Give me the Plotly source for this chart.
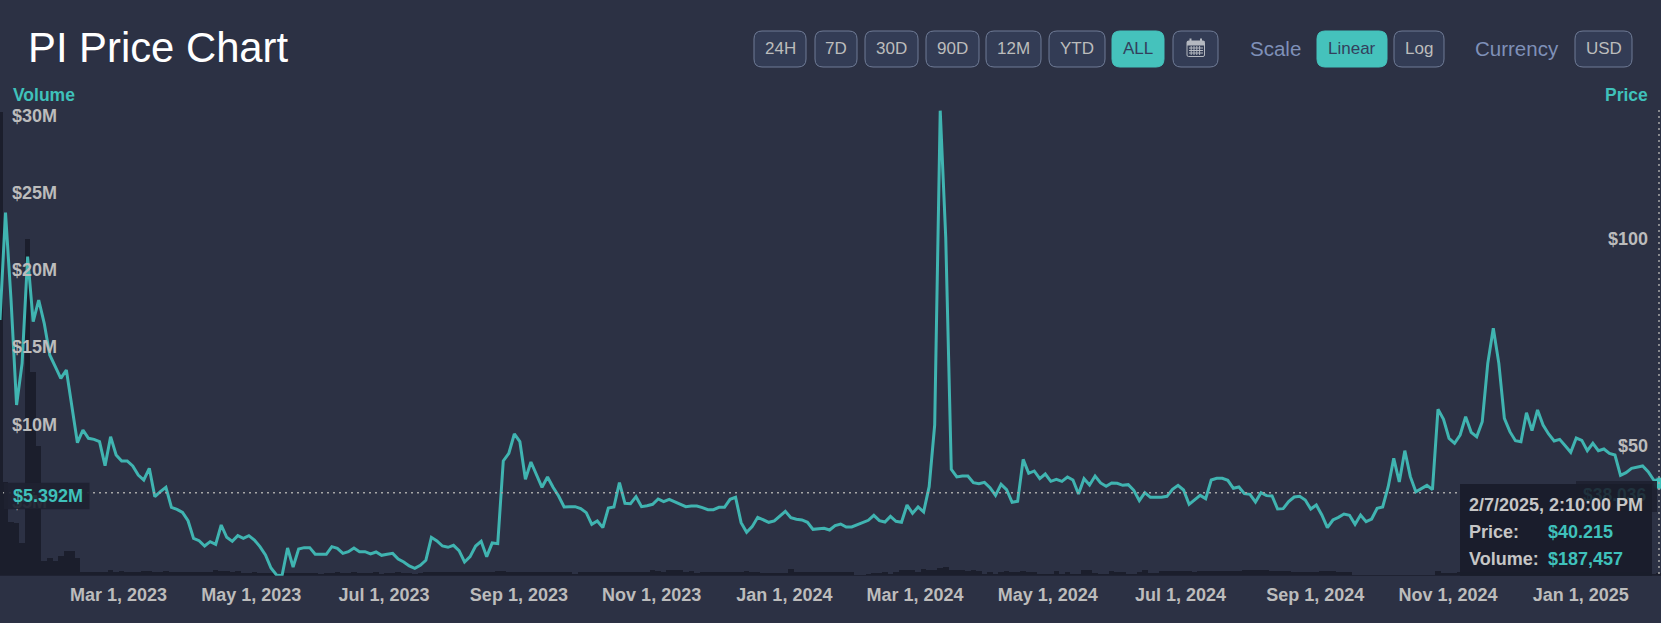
import pandas as pd
import plotly.graph_objects as go

W, H = 1661, 623

price = [
79.58,105.46,84.40,59.09,69.13,94.85,79.18,84.40,78.78,71.14,68.33,65.52,67.53,58.29,50.01,53.06,51.05,50.81,50.25,44.46,
51.45,47.03,45.59,45.59,44.38,42.21,41.01,43.82,36.99,38.20,39.24,34.42,33.94,33.21,31.20,26.94,26.38,25.10,26.14,25.50,
30.16,27.19,26.22,27.59,26.94,27.59,26.54,24.94,22.93,19.79,18.11,18.00,24.61,20.03,24.37,24.70,24.70,23.09,23.09,23.09,
24.94,24.54,23.33,23.73,24.62,23.73,23.73,23.17,23.65,22.85,23.09,23.33,21.97,21.24,20.28,19.72,20.44,21.65,27.19,26.31,
25.10,24.78,25.26,23.98,21.24,22.53,25.10,26.23,22.53,25.82,25.66,45.59,47.44,52.10,50.25,41.17,45.35,42.38,39.24,41.74,
39.24,37.15,34.50,34.58,34.58,34.10,33.14,30.32,31.13,29.52,34.26,34.50,40.37,35.39,35.31,36.99,34.58,34.82,35.15,36.43,
35.79,36.35,35.79,35.23,34.58,34.74,34.74,34.34,33.86,33.86,34.42,34.42,36.35,36.83,30.73,28.40,29.76,32.01,31.37,30.81,
31.13,32.41,33.46,31.93,31.53,31.37,30.81,29.12,29.28,29.36,28.96,30.00,30.40,29.68,29.68,30.24,30.89,31.29,32.49,31.21,
30.89,32.25,31.05,30.81,34.98,32.98,34.50,33.30,39.40,54.27,130.04,99.35,43.58,41.74,41.97,41.97,40.37,40.13,40.45,39.16,
37.31,39.96,38.68,35.63,35.87,45.99,42.62,43.18,41.33,42.46,40.69,41.17,40.69,41.74,41.01,37.64,41.33,39.81,41.97,40.29,
39.48,40.29,40.21,39.73,39.89,38.52,36.03,37.96,36.83,36.83,36.83,37.07,38.76,39.73,38.60,35.15,36.35,37.31,36.51,41.01,
41.41,41.41,40.93,39.00,39.32,37.72,37.56,35.71,37.96,37.24,37.15,34.02,34.10,35.79,36.91,37.07,36.18,34.01,34.98,32.57,
29.51,31.36,32.01,32.81,32.49,30.32,32.57,30.96,31.60,34.17,34.50,39.40,46.23,40.52,48.08,41.81,38.19,39.00,39.72,38.68,
58.04,55.63,51.05,49.85,51.85,56.27,52.50,51.45,55.07,69.13,77.57,69.13,55.87,52.66,50.49,50.25,57.24,52.90,57.88,54.26,
52.10,50.41,50.81,49.28,47.68,51.13,50.57,48.08,49.85,48.08,48.48,47.43,47.03,42.13,42.77,43.82,44.06,44.38,43.01,41.01,
40.215,
]

# millions of USD
volume = [
30.0,6.08,3.50,3.40,2.10,21.8,13.2,8.40,0.97,1.13,0.97,1.27,1.58,1.58,1.16,0.26,0.24,0.25,0.27,0.26,
0.35,0.26,0.31,0.27,0.24,0.24,0.28,0.33,0.27,0.22,0.30,0.26,0.26,0.25,0.26,0.27,0.26,0.26,0.25,0.35,
0.28,0.28,0.27,0.28,0.20,0.20,0.21,0.20,0.20,0.16,0.16,0.17,0.16,0.16,0.16,0.17,0.16,0.16,0.07,0.20,
0.20,0.21,0.20,0.20,0.21,0.20,0.20,0.20,0.21,0.13,0.20,0.20,0.21,0.20,0.20,0.05,0.15,0.26,0.26,0.27,
0.26,0.26,0.27,0.26,0.26,0.26,0.27,0.26,0.26,0.26,0.30,0.33,0.22,0.22,0.23,0.22,0.22,0.22,0.23,0.22,
0.22,0.22,0.23,0.22,0.05,0.26,0.26,0.27,0.26,0.26,0.26,0.27,0.26,0.26,0.26,0.27,0.26,0.26,0.37,0.33,
0.22,0.37,0.37,0.37,0.22,0.33,0.18,0.26,0.26,0.26,0.26,0.26,0.22,0.26,0.26,0.33,0.26,0.26,0.20,0.20,
0.20,0.20,0.20,0.43,0.22,0.22,0.26,0.22,0.22,0.26,0.26,0.26,0.22,0.22,0.22,0.02,0.02,0.09,0.20,0.15,
0.26,0.13,0.26,0.39,0.39,0.39,0.22,0.43,0.39,0.39,0.47,0.56,0.39,0.39,0.39,0.30,0.39,0.33,0.11,0.26,
0.13,0.22,0.33,0.22,0.26,0.33,0.26,0.22,0.05,0.13,0.13,0.28,0.13,0.26,0.09,0.09,0.37,0.37,0.20,0.13,
0.05,0.30,0.22,0.22,0.09,0.09,0.26,0.35,0.20,0.20,0.30,0.30,0.30,0.30,0.30,0.30,0.22,0.28,0.28,0.28,
0.33,0.33,0.30,0.28,0.28,0.35,0.35,0.35,0.35,0.35,0.28,0.28,0.28,0.28,0.26,0.26,0.26,0.26,0.26,0.30,
0.30,0.30,0.26,0.26,0.26,0.02,0.02,0.02,0.02,0.02,0.02,0.02,0.02,0.02,0.02,0.02,0.02,0.02,0.02,0.02,
0.33,0.20,0.20,0.20,0.25,0.25,0.25,0.25,0.25,0.25,0.25,0.25,0.25,0.25,0.25,0.25,0.25,0.25,0.25,0.25,
0.25,0.25,0.25,0.25,0.25,0.25,0.25,0.25,0.25,0.25,0.25,0.25,0.25,0.25,0.25,0.25,0.25,0.25,0.25,0.09,
0.187,
]

dates = pd.date_range("2023-01-05 12:47", periods=len(price), freq="61h")
x_range = ["2023-01-05 13:00", "2025-02-06 20:24"]

x_ticks = ["2023-03-01","2023-05-01","2023-07-01","2023-09-01","2023-11-01","2024-01-01",
           "2024-03-01","2024-05-01","2024-07-01","2024-09-01","2024-11-01","2025-01-01"]
x_labels = ["Mar 1, 2023","May 1, 2023","Jul 1, 2023","Sep 1, 2023","Nov 1, 2023","Jan 1, 2024",
            "Mar 1, 2024","May 1, 2024","Jul 1, 2024","Sep 1, 2024","Nov 1, 2024","Jan 1, 2025"]
vol_ticks = [5, 10, 15, 20, 25, 30]
vol_labels = ["$5M", "$10M", "$15M", "$20M", "$25M", "$30M"]
price_ticks = [50, 100]
price_labels = ["$50", "$100"]

BG = "#2c3144"
TEAL = "#40b4b1"
TEAL_TXT = "#3fc1bb"
BAR = "#1b1e2c"
GREY = "#bcbcbc"
FONT = "Liberation Sans"
PLOT_TOP, PLOT_BOT = 80.0, 575.7


def px(x):
    return x / W


def py(y):
    return 1 - y / H


def bold(items):
    return [f"<b>{s}</b>" for s in items]


shapes, annos = [], []


def rrect(x0, y0, x1, y1, r, fill, line=None):
    X0, X1, Y0, Y1 = px(x0), px(x1), py(y0), py(y1)
    rx, ry = r / W, r / H
    path = (f"M {X0+rx} {Y0} L {X1-rx} {Y0} Q {X1} {Y0} {X1} {Y0-ry} L {X1} {Y1+ry} Q {X1} {Y1} {X1-rx} {Y1} "
            f"L {X0+rx} {Y1} Q {X0} {Y1} {X0} {Y1+ry} L {X0} {Y0-ry} Q {X0} {Y0} {X0+rx} {Y0} Z")
    shapes.append(dict(type="path", path=path, xref="paper", yref="paper", fillcolor=fill, layer="above",
                       line=dict(color=line or fill, width=1)))


def rect(x0, y0, x1, y1, fill, opacity=1):
    shapes.append(dict(type="rect", xref="paper", yref="paper", x0=px(x0), x1=px(x1), y0=py(y0), y1=py(y1),
                       fillcolor=fill, opacity=opacity, line=dict(width=0), layer="above"))


def seg(x0, y0, x1, y1, color, width, dash="solid"):
    shapes.append(dict(type="line", xref="paper", yref="paper", x0=px(x0), x1=px(x1), y0=py(y0), y1=py(y1),
                       line=dict(color=color, width=width, dash=dash), layer="above"))


def text(x, y, s, size, color, anchor="left", is_bold=False):
    annos.append(dict(x=px(x), y=py(y), xref="paper", yref="paper", text=f"<b>{s}</b>" if is_bold else s,
                      showarrow=False, xanchor=anchor, yanchor="middle", xshift=0, yshift=0,
                      font=dict(family=FONT, size=size, color=color), borderpad=0))


# header
text(26.5, 47.5, "PI Price Chart", 41.8, "#ffffff")
buttons = [("24H", 754, 806, False), ("7D", 815, 857, False), ("30D", 865, 918, False), ("90D", 926, 979, False),
           ("12M", 986, 1041, False), ("YTD", 1049, 1105, False), ("ALL", 1112, 1164, True), ("", 1173, 1218, False),
           ("Linear", 1317, 1387, True), ("Log", 1394, 1444, False), ("USD", 1575, 1632, False)]
BTN_TOP, BTN_BOT = 31, 67
for label, x0, x1, active in buttons:
    rrect(x0, BTN_TOP, x1, BTN_BOT, 8, "#45c2bc" if active else "#333c55", "#45c2bc" if active else "#6f7b96")
    if label:
        text((x0 + x1) / 2, 49, label, 17, "#33405c" if active else GREY, anchor="center")
text(1249, 49, "Scale", 20.5, "#7f90b8")
text(1474, 49, "Currency", 20.5, "#7f90b8")

# calendar icon
ICON = "#b4b8c0"
rrect(1187, 41, 1204.5, 56.5, 1.5, "#333c55", ICON)
rect(1187, 41, 1204.5, 45.5, ICON)
seg(1190.5, 38.5, 1190.5, 42.5, ICON, 2)
seg(1201, 38.5, 1201, 42.5, ICON, 2)
for gy in (48, 50.5, 53):
    seg(1189, gy, 1203, gy, ICON, 1)
for gx in (1191.2, 1194, 1196.8, 1199.6):
    seg(gx, 46, gx, 55, ICON, 1)

# axis titles
text(12, 94.7, "Volume", 17.5, TEAL_TXT, is_bold=True)
text(1649, 94.7, "Price", 17.5, TEAL_TXT, anchor="right", is_bold=True)

# crosshair
seg(3, 492.7, 1460, 492.7, "#a6a6a6", 1.5, "2px,4px")
seg(1659, 110, 1659, PLOT_BOT, "#a6a6a6", 1.5, "2px,4px")

# crosshair labels
rect(4, 482.7, 89.5, 509.3, "#1e2130", 0.93)
text(12, 495.7, "$5.392M", 18, TEAL_TXT, is_bold=True)
rect(1576, 481, 1657, 512, "#1e2130", 0.93)

# tooltip
rect(1460, 484, 1652, PLOT_BOT, "#1a1d2b", 0.97)
text(1648, 495, "$38.036", 17.5, "#20323d", anchor="right", is_bold=True)
text(1468, 504.5, "2/7/2025, 2:10:00 PM", 18, "#c6c6c6", is_bold=True)
text(1468, 531.7, "Price:", 18, "#c6c6c6", is_bold=True)
text(1468, 559, "Volume:", 18, "#c6c6c6", is_bold=True)
text(1547, 531.7, "$40.215", 18, TEAL_TXT, is_bold=True)
text(1547, 559, "$187,457", 18, TEAL_TXT, is_bold=True)

fig = go.Figure()
fig.add_trace(go.Bar(x=dates, y=volume, yaxis="y", marker=dict(color=BAR, line=dict(width=0)), hoverinfo="skip"))
fig.add_trace(go.Scatter(x=dates, y=price, yaxis="y2", mode="lines", line=dict(color=TEAL, width=3),
                         cliponaxis=False, hoverinfo="skip"))
fig.add_trace(go.Scatter(x=[dates[-1]], y=[price[-1]], yaxis="y2", mode="markers", hoverinfo="skip", cliponaxis=False,
                         marker=dict(color=TEAL_TXT, size=11, line=dict(color="rgba(63,193,187,0.35)", width=2))))

tick_font = dict(family=FONT, size=18, color=GREY)
dom = [1 - PLOT_BOT / H, 1 - PLOT_TOP / H]
fig.update_layout(
    width=W, height=H, margin=dict(l=0, r=0, t=0, b=0), autosize=False,
    paper_bgcolor=BG, plot_bgcolor=BG, showlegend=False, bargap=0,
    shapes=shapes, annotations=annos,
    xaxis=dict(type="date", range=x_range, domain=[0, 1], tickmode="array", tickvals=x_ticks, ticktext=bold(x_labels),
               showgrid=False, zeroline=False, showline=False, ticks="", ticklabelstandoff=6,
               tickfont=tick_font, tickangle=0, fixedrange=True),
    yaxis=dict(domain=dom, range=[0, (PLOT_BOT - PLOT_TOP) / 15.45], tickmode="array", tickvals=vol_ticks,
               ticktext=bold(vol_labels), showgrid=False, zeroline=False, showline=False, ticks="",
               ticklabelposition="inside", ticklabelstandoff=9, ticklabelshift=3, tickfont=tick_font,
               fixedrange=True),
    yaxis2=dict(overlaying="y", side="right", domain=dom, range=[50 - (PLOT_BOT - 442.7) / 4.148, 50 + (442.7 - PLOT_TOP) / 4.148],
                tickmode="array", tickvals=price_ticks, ticktext=bold(price_labels), showgrid=False, zeroline=False,
                showline=False, ticks="", ticklabelposition="inside", ticklabelstandoff=10, ticklabelshift=3,
                tickfont=tick_font, fixedrange=True),
)

fig.write_html(
    "out.html",
    config=dict(displayModeBar=False, responsive=False),
    post_script=f"document.documentElement.style.background='{BG}';document.body.style.margin='0';"
                f"document.body.style.overflow='hidden';document.body.style.background='{BG}';",
)
